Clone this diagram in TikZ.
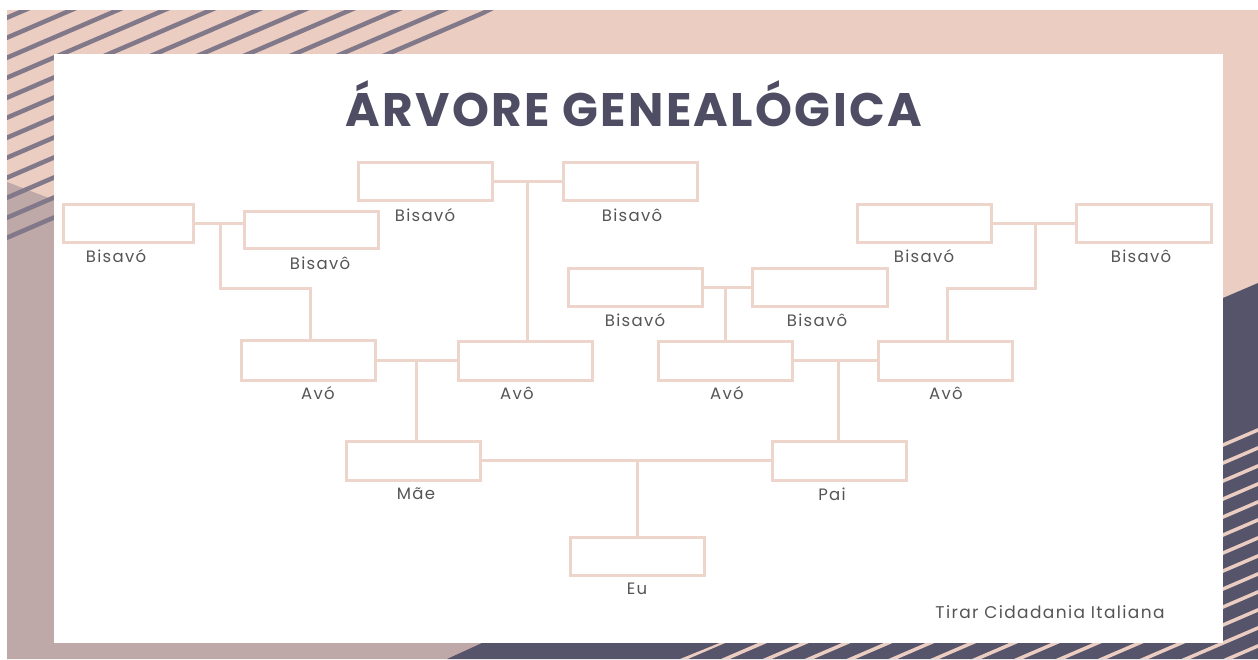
\documentclass[tikz,border=0pt]{standalone}
\usepackage{fontspec}
\setmainfont{Poppins}
\newfontfamily\lblfont{Poppins}[LetterSpace=8]
\newfontfamily\ttlfont{Poppins}[LetterSpace=5]
\usetikzlibrary{calc}
\definecolor{peach}{HTML}{EBCDC2}
\definecolor{mauve}{HTML}{BEA8A8}
\definecolor{navy}{HTML}{55546A}
\definecolor{stripegray}{HTML}{817889}
\definecolor{boxline}{HTML}{EDD5CB}
\definecolor{titlecol}{HTML}{4F4D63}
\definecolor{labelcol}{HTML}{555555}
\begin{document}
\begin{tikzpicture}[x=1pt,y=-1pt,
  pbox/.style={draw=boxline,line width=3pt,fill=white,minimum width=134pt,minimum height=38pt,inner sep=0pt},
  conn/.style={draw=boxline,line width=3pt},
  lbl/.style={text=labelcol,font=\lblfont\fontsize{16.5}{18}\selectfont,inner sep=0pt,anchor=center}]
\useasboundingbox (0,0) rectangle (1258,659);
\fill[white] (0,0) rectangle (1258,659);
% background
\fill[peach] (7,10) rectangle (1258,659);
\fill[mauve] (7,182) -- (54,200) -- (54,643) -- (482,643) -- (447,659) -- (7,659) -- cycle;
\fill[navy] (447,659) -- (482,643) -- (1223,298) -- (1258,283) -- (1258,659) -- cycle;
\begin{scope}
  \clip (7,10) -- (494,10) -- (7,248) -- cycle;
  \foreach \k in {0,...,13}{
    \draw[stripegray,line width=4.5pt] (0,{17.7+20*\k+0.43*7}) -- (700,{17.7+20*\k-0.43*693});
  }
\end{scope}
\begin{scope}
  \clip (680,659) -- (1258,425) -- (1258,659) -- cycle;
  \foreach \k in {-4,...,16}{
    \draw[peach,line width=3.5pt] (600,{445+18*\k+0.43*623}) -- (1300,{445+18*\k-0.43*77});
  }
\end{scope}
% card
\fill[white] (54,54) rectangle (1223,643);
% title
\node[text=titlecol,font=\ttlfont\fontsize{47}{50}\bfseries,inner sep=0pt] (title) at (634,104) {ÁRVORE GENEALÓGICA};
% boxes
\node[pbox] (b1) at (425,181) {};
\node[pbox] (b2) at (630,181) {};
\node[pbox,minimum width=130pt] (b3) at (128,223.5) {};
\node[pbox,minimum height=37pt] (b4) at (311.5,229.5) {};
\node[pbox,minimum height=40pt] (a1) at (308,360) {};
\node[pbox,minimum height=39pt] (a2) at (525.5,360.5) {};
\node[pbox,minimum height=39pt] (m) at (413.5,460.5) {};
\node[pbox,minimum height=39pt] (p) at (839,460.5) {};
\node[pbox] (e) at (637,556) {};
\node[pbox] (b5) at (635,287) {};
\node[pbox,minimum width=135pt] (b6) at (819.5,287) {};
\node[pbox,minimum height=39pt] (a3) at (725.5,360.5) {};
\node[pbox,minimum height=39pt] (a4) at (945.5,360.5) {};
\node[pbox] (b7) at (924,223) {};
\node[pbox,minimum width=135pt] (b8) at (1143.5,223) {};
% labels
\node[lbl] (lb1) at (425,215) {Bisavó};
\node[lbl] (lb2) at (632,215) {Bisavô};
\node[lbl] (lb3) at (116,256) {Bisavó};
\node[lbl] (lb4) at (320,263) {Bisavô};
\node[lbl] (la1) at (318,393) {Avó};
\node[lbl] (la2) at (517,393) {Avô};
\node[lbl] (lm) at (416,494) {Mãe};
\node[lbl] (lp) at (832,494) {Pai};
\node[lbl] (le) at (637,589) {Eu};
\node[lbl] (lb5) at (635,320) {Bisavó};
\node[lbl] (lb6) at (817,320) {Bisavô};
\node[lbl] (la3) at (727,393) {Avó};
\node[lbl] (la4) at (946,393) {Avô};
\node[lbl] (lb7) at (924,256) {Bisavó};
\node[lbl] (lb8) at (1141,256) {Bisavô};
\node[lbl,font=\lblfont\fontsize{17}{19}\selectfont] (credit) at (1050,612) {Tirar Cidadania Italiana};
% connectors
\coordinate (j1) at (527,181);
\draw[conn] (b1.east) -- (b2.west);
\draw[conn] (j1) -- (j1 |- a2.north);
\coordinate (j2) at (220,223.5);
\coordinate (j2b) at (220,288);
\coordinate (j2c) at (310,288);
\draw[conn] (b3.east) -- (b3.east -| b4.west);
\draw[conn] (j2) -- (j2b) -- (j2c) -- (j2c |- a1.north);
\coordinate (j3) at (416,360.5);
\draw[conn] (a1.east |- j3) -- (a2.west |- j3);
\draw[conn] (j3) -- (j3 |- m.north);
\coordinate (j4) at (637,460.5);
\draw[conn] (m.east) -- (p.west);
\draw[conn] (j4) -- (j4 |- e.north);
\coordinate (j5) at (725,287);
\draw[conn] (b5.east) -- (b6.west);
\draw[conn] (j5) -- (j5 |- a3.north);
\coordinate (j6) at (838,360.5);
\draw[conn] (a3.east) -- (a4.west);
\draw[conn] (j6) -- (j6 |- p.north);
\coordinate (j7) at (1035,223);
\coordinate (j7b) at (1035,288);
\coordinate (j7c) at (947,288);
\draw[conn] (b7.east) -- (b8.west);
\draw[conn] (j7) -- (j7b) -- (j7c) -- (j7c |- a4.north);
\end{tikzpicture}
\end{document}
